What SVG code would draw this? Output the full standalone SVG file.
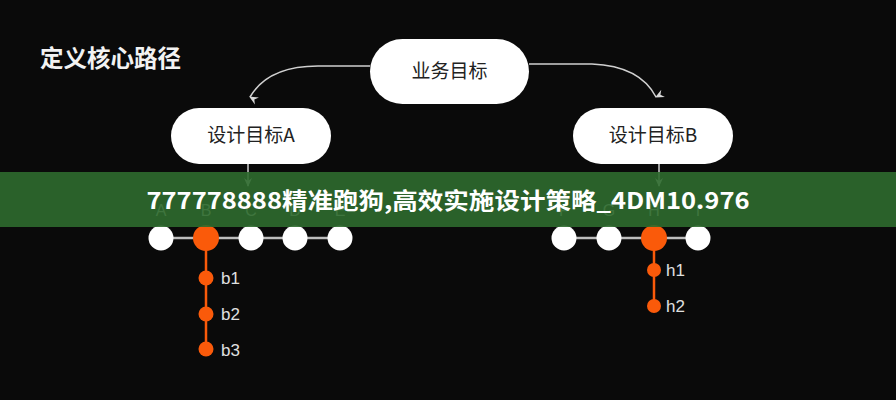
<svg xmlns="http://www.w3.org/2000/svg" width="896" height="400" viewBox="0 0 896 400">
<defs>
<marker id="ah" markerWidth="10" markerHeight="10" refX="5" refY="8" orient="auto" markerUnits="userSpaceOnUse" viewBox="0 0 10 10">
<path d="M1,0 L5,9 L9,0 L5,3 Z" fill="#d8d8d8"/>
</marker>
<marker id="ahd" markerWidth="10" markerHeight="10" refX="5" refY="8" orient="0" markerUnits="userSpaceOnUse" viewBox="0 0 10 10">
<path d="M1,0 L5,9 L9,0 L5,3 Z" fill="#d8d8d8"/>
</marker>
</defs>
<style>
.cjk{font-family:"Noto Sans CJK SC","Noto Sans",sans-serif}
.pill{fill:#ffffff}
.ptxt{font-size:19px;fill:#222;text-anchor:middle}
.arc{fill:none;stroke:#d0d0d0;stroke-width:1.5}
.row{stroke:#bdbdbd;stroke-width:2.5}
.wc{fill:#ffffff}
.oc{fill:#fa5a0a}
.ol{stroke:#fa5a0a;stroke-width:2.5}
.lbl{font-family:"Liberation Sans",Arial,sans-serif;font-size:16px;fill:#d8d8d8}
.sub{font-family:"Liberation Sans",Arial,sans-serif;font-size:17px;fill:#e0e0e0}
</style>
<rect width="896" height="400" fill="#0a0a0a"/>
<text class="cjk" x="40" y="67" font-size="23.5" font-weight="bold" fill="#f2f2f2">定义核心路径</text>

<g id="connectors">
<path class="arc" d="M370,66 H318 Q268,66 250,97" marker-end="url(#ah)"/>
<path class="arc" d="M529,64 H592 Q640,66 656,97" marker-end="url(#ah)"/>
<line class="arc" x1="248" y1="164" x2="248" y2="186" marker-end="url(#ahd)"/>
<line class="arc" x1="659" y1="164" x2="659" y2="186" marker-end="url(#ahd)"/>
<line class="row" x1="161" y1="238" x2="340" y2="238"/>
<line class="row" x1="564" y1="238" x2="698" y2="238"/>
<line class="ol" x1="206" y1="238" x2="206" y2="349"/>
<line class="ol" x1="654" y1="238" x2="654" y2="306"/>
</g>

<g id="goal">
<rect class="pill" x="370" y="39" width="159" height="65" rx="32.5"/>
<text class="cjk ptxt" x="449.5" y="78">业务目标</text>
</g>
<g id="designA">
<rect class="pill" x="171" y="108" width="160" height="56" rx="28"/>
<text class="cjk ptxt" x="251" y="142">设计目标A</text>
</g>
<g id="designB">
<rect class="pill" x="573" y="108" width="160" height="56" rx="28"/>
<text class="cjk ptxt" x="653" y="142">设计目标B</text>
</g>

<g id="labels-top">
<text class="lbl" x="161" y="216" text-anchor="middle">A</text>
<text class="lbl" x="206" y="216" text-anchor="middle">B</text>
<text class="lbl" x="251" y="216" text-anchor="middle">C</text>
<text class="lbl" x="295" y="216" text-anchor="middle">D</text>
<text class="lbl" x="340" y="216" text-anchor="middle">E</text>
<text class="lbl" x="564" y="216" text-anchor="middle">F</text>
<text class="lbl" x="609" y="216" text-anchor="middle">G</text>
<text class="lbl" x="654" y="216" text-anchor="middle">H</text>
<text class="lbl" x="698" y="216" text-anchor="middle">I</text>
</g>

<g id="nodeA"><circle class="wc" cx="161" cy="238" r="12.5"/></g>
<g id="nodeB"><circle class="oc" cx="206" cy="238" r="13"/></g>
<g id="nodeC"><circle class="wc" cx="251" cy="238" r="12.5"/></g>
<g id="nodeD"><circle class="wc" cx="295" cy="238" r="12.5"/></g>
<g id="nodeE"><circle class="wc" cx="340" cy="238" r="12.5"/></g>
<g id="nodeF"><circle class="wc" cx="564" cy="238" r="12.5"/></g>
<g id="nodeG"><circle class="wc" cx="609" cy="238" r="12.5"/></g>
<g id="nodeH"><circle class="oc" cx="654" cy="238" r="13"/></g>
<g id="nodeI"><circle class="wc" cx="698" cy="238" r="12.5"/></g>

<g id="b1"><circle class="oc" cx="206" cy="278" r="7.5"/><text class="sub" x="221" y="284">b1</text></g>
<g id="b2"><circle class="oc" cx="206" cy="314" r="7.5"/><text class="sub" x="221" y="320">b2</text></g>
<g id="b3"><circle class="oc" cx="206" cy="349" r="7.5"/><text class="sub" x="221" y="356">b3</text></g>
<g id="h1"><circle class="oc" cx="654" cy="270" r="7"/><text class="sub" x="666" y="276">h1</text></g>
<g id="h2"><circle class="oc" cx="654" cy="306" r="7"/><text class="sub" x="666" y="312">h2</text></g>

<g id="banner">
<rect x="0" y="172" width="896" height="55" fill="#2d6a2d" opacity="0.9"/>
<text class="cjk" x="448" y="209" font-size="23" font-weight="bold" fill="#ffffff" text-anchor="middle" textLength="603" lengthAdjust="spacingAndGlyphs">777778888精准跑狗,高效实施设计策略_4DM10.976</text>
</g>
</svg>
